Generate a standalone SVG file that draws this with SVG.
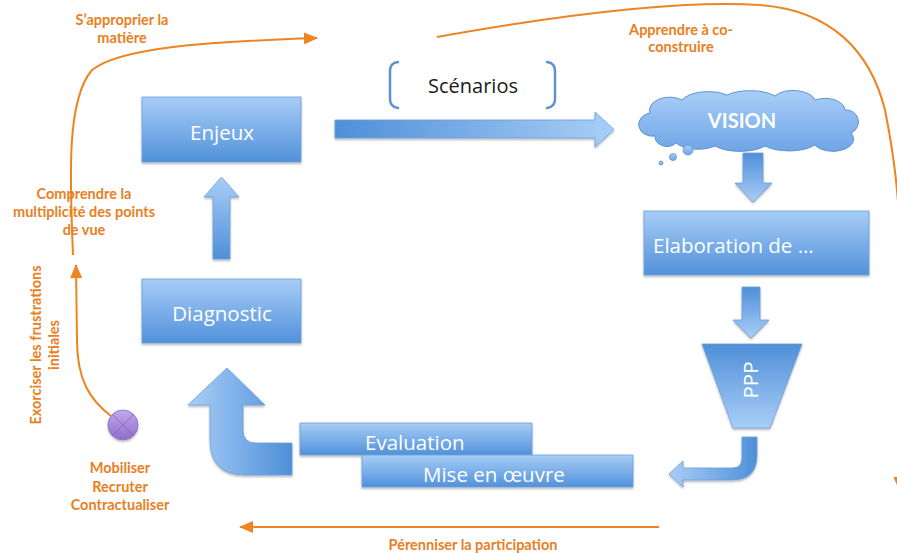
<svg xmlns="http://www.w3.org/2000/svg" width="897" height="554" viewBox="0 0 897 554">
<style>
.box{fill:url(#gBox);stroke:#6b9fdc;stroke-width:0.8;filter:url(#sh)}
.bt{font-family:"Open Sans","Liberation Sans",sans-serif;fill:#ffffff;font-size:20.5px}
.ot{font-family:Lato,"Liberation Sans",sans-serif;fill:#e8801f;font-size:14.5px;font-weight:bold;text-anchor:middle}
.oc{fill:none;stroke:#ec8421;stroke-width:2}
.ba{stroke:#6b9fdc;stroke-width:0.8;filter:url(#sh)}
.br{fill:none;stroke:#5f92cf;stroke-width:2.5;stroke-linecap:round}
</style>
<defs>
<linearGradient id="gBox" x1="0" y1="0" x2="0" y2="1"><stop offset="0" stop-color="#a7cdf7"/><stop offset="1" stop-color="#5191da"/></linearGradient>
<linearGradient id="gRight" x1="0" y1="0" x2="1" y2="0"><stop offset="0" stop-color="#4f8fd8"/><stop offset="1" stop-color="#a9cef7"/></linearGradient>
<linearGradient id="gUp" x1="0" y1="1" x2="0" y2="0"><stop offset="0" stop-color="#4f8fd8"/><stop offset="1" stop-color="#a9cef7"/></linearGradient>
<linearGradient id="gDown" x1="0" y1="0" x2="0" y2="1"><stop offset="0" stop-color="#4f8fd8"/><stop offset="1" stop-color="#a9cef7"/></linearGradient>
<linearGradient id="gLeft" x1="1" y1="0" x2="0" y2="0"><stop offset="0" stop-color="#4f8fd8"/><stop offset="1" stop-color="#a9cef7"/></linearGradient>
<linearGradient id="gCloud" x1="0" y1="0" x2="0" y2="1"><stop offset="0" stop-color="#a9cef7"/><stop offset="1" stop-color="#6ea5e6"/></linearGradient>
<linearGradient id="gPurple" x1="0" y1="0" x2="0" y2="1"><stop offset="0" stop-color="#c1a9ea"/><stop offset="1" stop-color="#8e6dc8"/></linearGradient>
<filter id="sh" x="-10%" y="-10%" width="120%" height="130%"><feDropShadow dx="0" dy="1.5" stdDeviation="1.2" flood-color="#000" flood-opacity="0.3"/></filter>
<marker id="ah" viewBox="0 0 14 12" refX="13" refY="6" markerWidth="14" markerHeight="12" markerUnits="userSpaceOnUse" orient="auto"><path d="M0,0 L14,6 L0,12 Z" fill="#ec8421"/></marker>
</defs>

<g id="connectors">
<path class="ba" fill="url(#gRight)" d="M335,120 L595,120 L595,112 L614,129.5 L595,147 L595,138 L335,138 Z"/>
<path class="ba" fill="url(#gUp)" d="M221.5,177 L239,197 L230,197 L230,259 L213,259 L213,197 L204,197 Z"/>
<path class="ba" fill="url(#gDown)" d="M743,153 L763,153 L763,183 L772,183 L753,202 L735,183 L743,183 Z"/>
<path class="ba" fill="url(#gDown)" d="M742,287 L760,287 L760,320 L769,320 L751,338 L733,320 L742,320 Z"/>
<path class="ba" fill="url(#gLeft)" d="M742,437 L757,437 L757,455 Q757,480 732,480 L683,480 L683,487 L669,474 L683,461 L683,468 L732,468 Q742,468 742,458 Z"/>
<path class="ba" fill="url(#gLeft)" d="M210,405 L188,405 L227,368 L265,405 L243,405 L243,430 Q243,443 256,443 L292,443 L292,475 L245,475 Q210,475 210,440 Z"/>
<path class="oc" marker-end="url(#ah)" d="M73,255 C 70,180 66,100 92,70 C 120,48 200,42 317,38"/>
<path class="oc" marker-end="url(#ah)" d="M437,37 C 560,15 680,0 760,5 C 830,10 870,50 885,110 C 893,150 899.5,200 899.5,240 L899.5,490"/>
<path class="oc" marker-end="url(#ah)" d="M659,527 L240,527"/>
<path class="oc" marker-end="url(#ah)" d="M111,416 C 90,400 77,380 77,340 L76,265"/>
</g>

<g id="enjeux"><rect class="box" x="142" y="97" width="159" height="65"/><text class="bt" x="222" y="140" text-anchor="middle">Enjeux</text></g>
<g id="diagnostic"><rect class="box" x="142" y="279" width="159" height="64"/><text class="bt" x="222" y="321" text-anchor="middle">Diagnostic</text></g>
<g id="scenarios">
<path class="br" d="M398,62 Q390,63 390,71 L390,99 Q390,107 398,108"/>
<path class="br" d="M547,62 Q555,63 555,71 L555,99 Q555,107 547,108"/>
<text x="473" y="93" text-anchor="middle" font-family="Open Sans, Liberation Sans, sans-serif" font-size="20" fill="#1a1a1a">Scénarios</text>
</g>
<g id="vision">
<path fill="url(#gCloud)" stroke="#5f92cf" stroke-width="1" d="M655,136 A13,11 0 0 1 650,113 A20,13 0 0 1 682,100 A28,13 0 0 1 727,95 A30,12 0 0 1 775,96 A22,12 0 0 1 815,100 A20,12 0 0 1 845,110 A12,12 0 0 1 851,133 A20,12 0 0 1 815,145 A30,12 0 0 1 765,146 A30,12 0 0 1 715,146 A25,12 0 0 1 676,143 A12,10 0 0 1 655,136 Z"/>
<circle cx="688" cy="150" r="5" fill="url(#gCloud)" stroke="#5f92cf" stroke-width="0.8"/>
<circle cx="673" cy="157" r="3.5" fill="url(#gCloud)" stroke="#5f92cf" stroke-width="0.8"/>
<circle cx="661" cy="163" r="2" fill="url(#gCloud)" stroke="#5f92cf" stroke-width="0.8"/>
<text x="742" y="128" text-anchor="middle" font-family="Lato, Liberation Sans, sans-serif" font-size="20" font-weight="bold" fill="#ffffff">VISION</text>
</g>
<g id="elaboration"><rect class="box" x="644" y="211" width="225" height="64"/><text class="bt" x="653" y="253" font-size="21">Elaboration de …</text></g>
<g id="ppp"><path class="ba" fill="url(#gDown)" d="M702,344 L802,344 L770,428 L733,428 Z"/><text class="bt" font-size="17" text-anchor="middle" transform="translate(758,380) rotate(-90)">PPP</text></g>
<g id="evaluation"><rect class="box" x="300" y="423" width="232" height="32"/><text class="bt" x="365" y="450">Evaluation</text></g>
<g id="miseenoeuvre"><rect class="box" x="362" y="455" width="271" height="32"/><text class="bt" x="423" y="482" font-size="21.5">Mise en œuvre</text></g>
<g id="mobiliser">
<circle cx="123" cy="425" r="15" fill="url(#gPurple)" stroke="#8a6bc0" stroke-width="0.8" filter="url(#sh)"/>
<path d="M112.4,414.4 L133.6,435.6 M133.6,414.4 L112.4,435.6" stroke="#7d5db8" stroke-width="1" opacity="0.7"/>
</g>

<g id="labels">
<text class="ot" x="122" y="25">S’approprier la</text>
<text class="ot" x="122" y="43">matière</text>
<text class="ot" x="681" y="35">Apprendre à co-</text>
<text class="ot" x="681" y="52">construire</text>
<text class="ot" x="84" y="199">Comprendre la</text>
<text class="ot" x="84" y="217">multiplicité des points</text>
<text class="ot" x="84" y="235">de vue</text>
<text class="ot" transform="translate(41,345) rotate(-90)">Exorciser les frustrations</text>
<text class="ot" transform="translate(59,345) rotate(-90)">initiales</text>
<text class="ot" x="120" y="473">Mobiliser</text>
<text class="ot" x="120" y="492">Recruter</text>
<text class="ot" x="120" y="510">Contractualiser</text>
<text class="ot" x="473" y="550">Pérenniser la participation</text>
</g>
</svg>
